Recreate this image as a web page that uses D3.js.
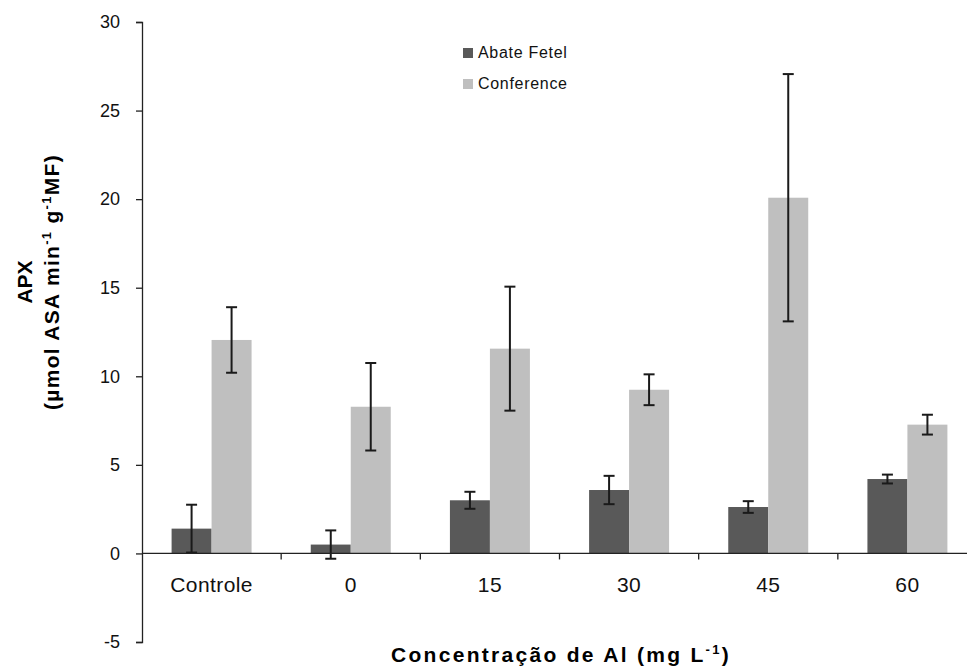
<!DOCTYPE html>
<html>
<head>
<meta charset="utf-8">
<script src="https://cdn.jsdelivr.net/npm/d3@7"></script>
<style>
  html, body { margin: 0; padding: 0; background: #fff; }
  svg { display: block; font-family: "Liberation Sans", Arial, sans-serif; }
</style>
</head>
<body>
<svg id="chart" width="967" height="669"></svg>
<script>
// APX activity per Al concentration, two pear cultivars (mean ± error)
const categories = ["Controle", "0", "15", "30", "45", "60"];
const seriesNames = ["Abate Fetel", "Conference"];
const abateFetel = [1.4, 0.5, 3.0, 3.58, 2.62, 4.2];
const abateFetelErr = [1.35, 0.8, 0.48, 0.8, 0.33, 0.25];
const conference = [12.05, 8.28, 11.56, 9.24, 20.08, 7.27];
const conferenceErr = [1.85, 2.47, 3.5, 0.87, 6.98, 0.56];
const yTicks = [-5, 0, 5, 10, 15, 20, 25, 30];
const colors = ["#595959", "#bfbfbf"];

const svg = d3.select("#chart");

const rows = categories.map((c, i) => ({
  cat: c,
  vals: [
    { s: seriesNames[0], v: abateFetel[i], e: abateFetelErr[i] },
    { s: seriesNames[1], v: conference[i], e: conferenceErr[i] }
  ]
}));

const y = d3.scaleLinear().domain([-5, 30]).range([642, 22]);
const x0 = d3.scaleBand().domain(categories).range([142, 977]).paddingInner(0).paddingOuter(0);
const x1 = d3.scaleBand().domain(seriesNames).range([0, x0.bandwidth()]).paddingInner(0).paddingOuter(0.74);
const color = d3.scaleOrdinal().domain(seriesNames).range(colors);

// bars
const groups = svg.append("g").selectAll("g")
  .data(rows).join("g")
  .attr("transform", d => `translate(${x0(d.cat)},0)`);

groups.selectAll("rect")
  .data(d => d.vals).join("rect")
  .attr("x", d => x1(d.s))
  .attr("width", x1.bandwidth())
  .attr("y", d => y(Math.max(0, d.v)))
  .attr("height", d => Math.abs(y(d.v) - y(0)))
  .attr("fill", d => color(d.s));

// y axis
const yAxis = svg.append("g")
  .attr("transform", "translate(142,0)")
  .call(d3.axisLeft(y).tickValues(yTicks).tickSize(6).tickPadding(16).tickFormat(d3.format("d")));
yAxis.select(".domain").attr("stroke", "#222").attr("stroke-width", 1.3);
yAxis.selectAll(".tick line").attr("stroke", "#222").attr("stroke-width", 1.3);
yAxis.selectAll(".tick text")
  .attr("font-size", 18).attr("fill", "#111")
  .attr("font-family", "Liberation Sans, Arial, sans-serif")
  .text(d => d < 0 ? "-" + Math.abs(d) : d);

// x axis along zero with ticks at category boundaries
const xAxisG = svg.append("g").attr("transform", `translate(0,${y(0)})`);
xAxisG.append("line")
  .attr("x1", 142).attr("x2", 977)
  .attr("stroke", "#222").attr("stroke-width", 1.3);
xAxisG.selectAll("line.sep")
  .data(categories.slice(1)).join("line")
  .attr("class", "sep")
  .attr("x1", d => x0(d)).attr("x2", d => x0(d))
  .attr("y1", 0).attr("y2", 6)
  .attr("stroke", "#222").attr("stroke-width", 1.3);

// category labels
svg.append("g").selectAll("text")
  .data(categories).join("text")
  .attr("x", d => x0(d) + x0.bandwidth() / 2)
  .attr("y", 592)
  .attr("text-anchor", "middle")
  .attr("font-size", 21)
  .attr("letter-spacing", 0.4)
  .attr("fill", "#111")
  .text(d => d);

// error bars
const eb = groups.selectAll("g.err")
  .data(d => d.vals).join("g")
  .attr("class", "err")
  .attr("stroke", "#1a1a1a").attr("stroke-width", 2);
const cx = d => x1(d.s) + x1.bandwidth() / 2;
eb.append("line")
  .attr("x1", cx).attr("x2", cx)
  .attr("y1", d => y(d.v + d.e)).attr("y2", d => y(d.v - d.e));
eb.append("line")
  .attr("x1", d => cx(d) - 5.5).attr("x2", d => cx(d) + 5.5)
  .attr("y1", d => y(d.v + d.e)).attr("y2", d => y(d.v + d.e));
eb.append("line")
  .attr("x1", d => cx(d) - 5.5).attr("x2", d => cx(d) + 5.5)
  .attr("y1", d => y(d.v - d.e)).attr("y2", d => y(d.v - d.e));

// legend
const legend = svg.append("g").selectAll("g")
  .data(seriesNames).join("g")
  .attr("transform", (d, i) => `translate(463,${48 + i * 31})`);
legend.append("rect")
  .attr("width", 10).attr("height", 10)
  .attr("fill", d => color(d));
legend.append("text")
  .attr("x", 15).attr("y", 10)
  .attr("font-size", 16).attr("letter-spacing", 0.7)
  .attr("fill", "#111")
  .text(d => d);

// x axis title
const xt = svg.append("text")
  .attr("x", 561).attr("y", 662)
  .attr("text-anchor", "middle")
  .attr("font-size", 21).attr("font-weight", "bold")
  .attr("letter-spacing", 2.3)
  .attr("fill", "#000");
xt.append("tspan").text("Concentração de Al (mg L");
xt.append("tspan").attr("dy", -8).attr("font-size", 13).text("-1");
xt.append("tspan").attr("dy", 8).text(")");

// y axis title (two lines)
const yt = svg.append("g").attr("transform", "translate(0,282) rotate(-90)");
yt.append("text")
  .attr("x", 0).attr("y", 32)
  .attr("text-anchor", "middle")
  .attr("font-size", 21).attr("font-weight", "bold")
  .attr("fill", "#000")
  .text("APX");
const yt2 = yt.append("text")
  .attr("x", 0).attr("y", 59)
  .attr("text-anchor", "middle")
  .attr("font-size", 21).attr("font-weight", "bold")
  .attr("letter-spacing", 1.3)
  .attr("fill", "#000");
yt2.append("tspan").text("(µmol ASA min");
yt2.append("tspan").attr("dy", -8).attr("font-size", 13).text("-1");
yt2.append("tspan").attr("dy", 8).text(" g");
yt2.append("tspan").attr("dy", -8).attr("font-size", 13).text("-1");
yt2.append("tspan").attr("dy", 8).text("MF)");
</script>
</body>
</html>
